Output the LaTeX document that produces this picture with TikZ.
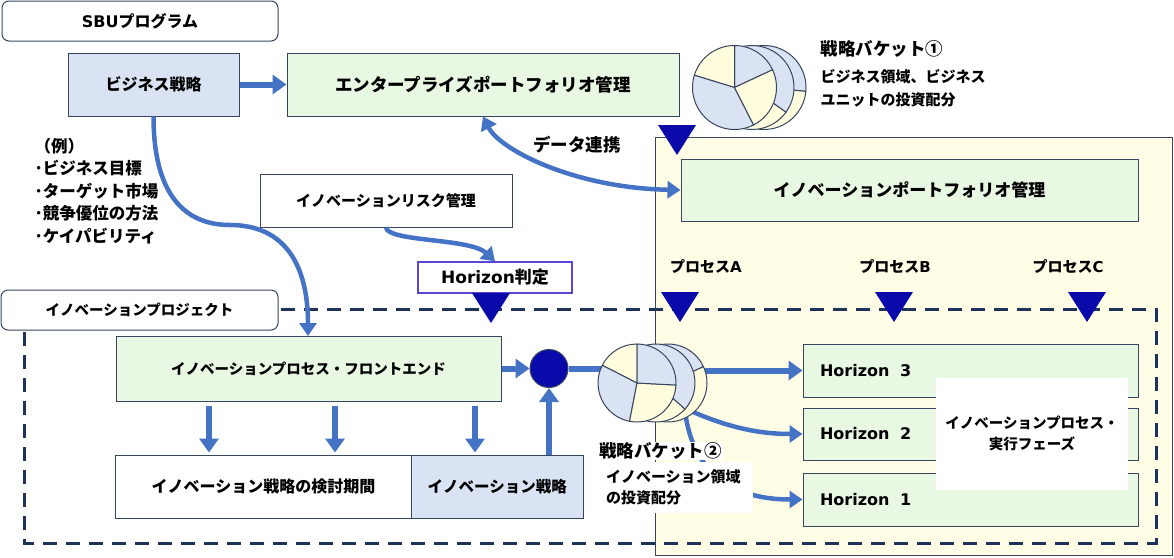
\documentclass[tikz,border=0pt]{standalone}
\usepackage{fontspec}
\setmainfont{Noto Sans CJK JP}
\newfontfamily\latfont{DejaVu Sans}
\usetikzlibrary{arrows.meta,calc}
\definecolor{ArrowClr}{RGB}{68,114,196}
\definecolor{BlueFill}{RGB}{218,227,243}
\definecolor{GreenFill}{RGB}{233,248,227}
\definecolor{PanelFill}{RGB}{255,253,230}
\definecolor{SliceClr}{RGB}{255,253,222}
\definecolor{LineClr}{RGB}{56,69,95}
\definecolor{NavyClr}{RGB}{10,10,170}
\definecolor{DashClr}{RGB}{31,50,90}
\definecolor{JudgeClr}{RGB}{90,70,210}

\newcommand\lat[1]{{\latfont\bfseries #1}}
% slices: start/end/colour, angles as on the page
\newcommand\bucket[3]{%
  \foreach \a/\b/\clr in {#3}
    \filldraw[fill=\clr,draw=LineClr,line width=1pt] (#1) -- ++(-\a:#2) arc[start angle=-\a,end angle=-\b,radius=#2] -- cycle;
}

\begin{document}
\begin{tikzpicture}[x=1pt,y=-1pt,
  every node/.style={font=\bfseries\fontsize{15}{22}\selectfont},
  fs/.style={font=\bfseries\fontsize{#1}{22}\selectfont},
  box/.style={draw=LineClr,line width=1pt,inner sep=0pt,align=center},
  roundbox/.style={box,fill=white,rounded corners=7pt},
  greenbox/.style={box,fill=GreenFill},
  bluebox/.style={box,fill=BlueFill},
  hbox/.style={box,fill=GreenFill,fs=16,text width=301pt,inner xsep=17pt,align=left},
  arr/.style={draw=ArrowClr,line width=4.5pt,-{Triangle[length=13pt,width=17pt]}},
  thickarr/.style={draw=ArrowClr,line width=6pt,-{Triangle[length=14pt,width=19pt]}},
  dblarr/.style={draw=ArrowClr,line width=4.5pt,{Triangle[length=13pt,width=17pt]}-{Triangle[length=13pt,width=17pt]}},
  link/.style={draw=ArrowClr,line width=6pt}]
\useasboundingbox (0,0) rectangle (1174,557);

% panels
\filldraw[fill=PanelFill,draw=LineClr,line width=1pt] (655,137) rectangle (1172,555);
\draw[DashClr,line width=3pt,dash pattern=on 14pt off 9pt] (24,309) rectangle (1156,543);

% boxes
\node[roundbox,fs=16,minimum width=276pt,minimum height=40pt] (sbu) at (140,21) {\lat{SBU}プログラム};
\node[bluebox,fs=16,minimum width=171pt,minimum height=63pt] (biz) at (153.5,84.5) {ビジネス戦略};
\node[greenbox,fs=17.5,minimum width=392pt,minimum height=63pt] (ent) at (483,84.5) {エンタープライズポートフォリオ管理};
\node[greenbox,fs=17,minimum width=457pt,minimum height=62pt] (port) at (909.5,190) {イノベーションポートフォリオ管理};
\node[box,fill=white,minimum width=252pt,minimum height=53pt] (risk) at (386,200.5) {イノベーションリスク管理};
\node[box,draw=JudgeClr,line width=1.5pt,fill=white,fs=17,minimum width=154pt,minimum height=31pt] (judge) at (495,277.5) {\lat{Horizon}判定};
\node[roundbox,fs=14.5,minimum width=277pt,minimum height=40pt] (proj) at (139.5,310) {イノベーションプロジェクト};
\node[greenbox,fs=14.5,minimum width=385pt,minimum height=65pt] (fe) at (308.5,368.5) {イノベーションプロセス・フロントエンド};
\node[box,fill=white,fs=16,minimum width=296pt,minimum height=63pt] (term) at (263.5,486.5) {イノベーション戦略の検討期間};
\node[bluebox,fs=15.5,minimum width=171.5pt,minimum height=63pt] (strat) at (497.25,486.5) {イノベーション戦略};
\node[circle,fill=NavyClr,draw=LineClr,line width=1pt,minimum size=38pt,inner sep=0pt] (hub) at (549,368.5) {};
\node[hbox,minimum height=53pt] (h3) at (970.5,370.5) {\lat{Horizon\ \ 3}};
\node[hbox,minimum height=52pt] (h2) at (970.5,434) {\lat{Horizon\ \ 2}};
\node[hbox,minimum height=53pt] (h1) at (970.5,499.5) {\lat{Horizon\ \ 1}};
\coordinate (feIn) at (308,336);
\coordinate (pie1) at (734.5,87.5);
\coordinate (pie2) at (637,383);
\coordinate (drop) at (684,400);

% connectors
\draw[thickarr] (biz) -- (ent);
\draw[arr] (biz.south) .. controls (153.5,195) and (185,225) .. (230,225) .. controls (285,225) and (308,265) .. (feIn);
\draw[dblarr] (ent.south) .. controls (500,150) and (575,188) .. (port.west);
\draw[arr] (risk.south) .. controls (388,242) and (470,238) .. (judge.north);
\draw[thickarr] (fe) -- (hub);
\draw[thickarr] (strat.north -| hub) -- (hub.south);
\foreach \x in {209,335}
  \draw[thickarr,shorten <=4pt,shorten >=2pt] (fe.south -| \x,0) -- (term.north -| \x,0);
\draw[thickarr,shorten <=4pt,shorten >=2pt] (fe.south -| 475,0) -- (strat.north -| 475,0);
\draw[link] (hub.east) -- (hub.east -| pie2);
\draw[thickarr] (h3.west -| pie2) -- (h3.west);
\draw[arr] (pie2) .. controls (700,420) and (745,434) .. (h2.west);
\draw[arr] (drop) .. controls (688,470) and (730,499.5) .. (h1.west);

% buckets
\bucket{$(pie1)+(29.5,0)$}{42}{200/355/SliceClr,355/560/BlueFill}
\bucket{$(pie1)+(17.5,0)$}{42}{200/324/SliceClr,324/560/BlueFill}
\bucket{pie1}{42}{25/90/BlueFill,90/163/SliceClr,163/297/BlueFill,297/385/SliceClr}
\bucket{$(pie2)+(31,0)$}{39}{200/385/SliceClr,385/560/BlueFill}
\bucket{$(pie2)+(19,0)$}{39}{200/318/SliceClr,318/560/BlueFill}
\bucket{pie2}{39}{90/153/SliceClr,153/259/BlueFill,259/357/SliceClr,357/450/BlueFill}

% labels
\node[fill=white,minimum width=192pt,minimum height=112pt,align=center,font=\bfseries\fontsize{14.5}{21}\selectfont] (exec) at (1032,433.5) {イノベーションプロセス・\\実行フェーズ};
\node[fs=17.5,fill=white,inner sep=1pt,anchor=west] (b2title) at (598,451) {戦略バケット②};
\node[fill=white,minimum width=153pt,minimum height=51pt,text width=141pt,inner xsep=6pt,align=left,font=\bfseries\fontsize{15}{21}\selectfont] (b2text) at (676.5,487.5) {イノベーション領域\\の投資配分};
\node[fs=17.5,anchor=west] (b1title) at (817,49) {戦略バケット①};
\node[anchor=west,align=left,font=\bfseries\fontsize{15}{23}\selectfont] (b1text) at (817,88.5) {ビジネス領域、ビジネス\\ユニットの投資配分};
\node[anchor=west,align=left,font=\bfseries\fontsize{16.5}{22.5}\selectfont] (example) at (31,191) {（例）\\･ビジネス目標\\･ターゲット市場\\･競争優位の方法\\･ケイパビリティ};
\node[fs=17.5] (sync) at (577,145) {データ連携};
\node (procA) at (706,267) {プロセス\lat{A}};
\node (procB) at (895,267) {プロセス\lat{B}};
\node (procC) at (1068,267) {プロセス\lat{C}};

% markers
\foreach \x/\y in {677/125,491/293,680/292,894/292,1087/292}
  \fill[NavyClr] (\x-19,\y) -- (\x+19,\y) -- (\x,\y+30) -- cycle;

\end{tikzpicture}
\end{document}
